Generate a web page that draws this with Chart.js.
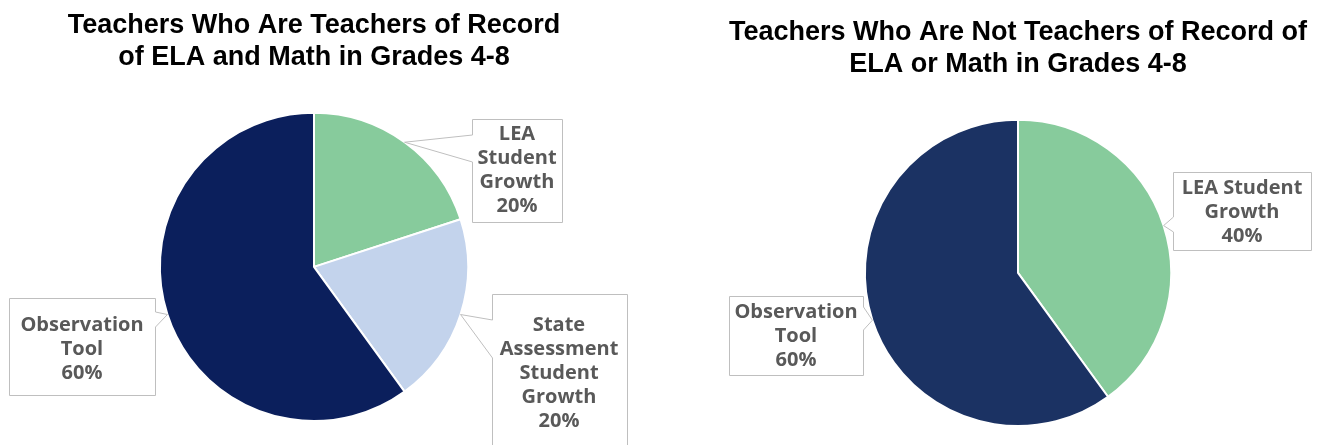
<!DOCTYPE html>
<html><head><meta charset="utf-8">
<script src="https://cdn.jsdelivr.net/npm/chart.js@4/dist/chart.umd.min.js"></script>
<style>
html,body{margin:0;padding:0;background:#fff;}
#wrap{position:relative;width:1323px;height:445px;overflow:hidden;background:#fff;}
.c{position:absolute;top:0;height:445px;}
</style></head><body>
<div id="wrap">
<div class="c" style="left:0;width:660px"><canvas id="left"></canvas></div>
<div class="c" style="left:660px;width:663px"><canvas id="right"></canvas></div>
</div>
<script>
// ---- data ----
const leftTitle = ['Teachers Who Are Teachers of Record', 'of ELA and Math in Grades 4-8'];
const leftCategories = ['LEA Student Growth', 'State Assessment Student Growth', 'Observation Tool'];
const leftValues = [20, 20, 60];
const leftColors = ['#87CB9C', '#C3D3EC', '#0B1F5C'];
const leftLabelLines = [['LEA', 'Student', 'Growth'], ['State', 'Assessment', 'Student', 'Growth'], ['Observation', 'Tool']];

const rightTitle = ['Teachers Who Are Not Teachers of Record of', 'ELA or Math in Grades 4-8'];
const rightCategories = ['LEA Student Growth', 'Observation Tool'];
const rightValues = [40, 60];
const rightColors = ['#87CB9C', '#1B3263'];
const rightLabelLines = [['LEA Student', 'Growth'], ['Observation', 'Tool']];

// ---- callout plugin ----
const calloutPlugin = {
  id: 'callouts',
  afterDatasetsDraw(chart, args, opts) {
    const ctx = chart.ctx;
    const meta = chart.getDatasetMeta(0);
    const values = chart.data.datasets[0].data;
    (opts.items || []).forEach((it, i) => {
      const arc = meta.data[i];
      const mid = (arc.startAngle + arc.endAngle) / 2;
      const tx = arc.x + Math.cos(mid) * arc.outerRadius;
      const ty = arc.y + Math.sin(mid) * arc.outerRadius;
      const [bx, by, bw, bh] = it.box;
      const [w1, w2] = it.wedge;
      ctx.save();
      ctx.fillStyle = '#ffffff';
      ctx.fillRect(bx, by, bw, bh);
      ctx.strokeStyle = '#BFBFBF';
      ctx.lineWidth = 1;
      const L = bx + 0.5, R = bx + bw + 0.5, T = by + 0.5, B = by + bh + 0.5;
      ctx.beginPath();
      if (it.side === 'left') {
        ctx.moveTo(L, T); ctx.lineTo(R, T); ctx.lineTo(R, B); ctx.lineTo(L, B);
        ctx.lineTo(L, w2); ctx.lineTo(tx, ty); ctx.lineTo(L, w1); ctx.closePath();
      } else {
        ctx.moveTo(L, T); ctx.lineTo(R, T); ctx.lineTo(R, w1); ctx.lineTo(tx, ty);
        ctx.lineTo(R, w2); ctx.lineTo(R, B); ctx.lineTo(L, B); ctx.closePath();
      }
      ctx.stroke();
      const lines = it.lines.concat([values[i] + '%']);
      ctx.fillStyle = '#595959';
      ctx.font = 'bold 20px "Open Sans"';
      ctx.textAlign = 'center';
      ctx.textBaseline = 'middle';
      const lh = it.lh || 24;
      lines.forEach((t, k) => ctx.fillText(t, it.cx, it.y0 + k * lh));
      ctx.restore();
    });
  }
};

function makePie(id, title, cats, vals, colors, titlePad, layoutPad, items) {
  return new Chart(document.getElementById(id), {
    type: 'pie',
    data: { labels: cats, datasets: [{ data: vals, backgroundColor: colors, borderColor: '#ffffff', borderWidth: 2 }] },
    options: {
      responsive: true, maintainAspectRatio: false, animation: false,
      layout: { padding: layoutPad },
      plugins: {
        legend: { display: false },
        tooltip: { enabled: false },
        title: { display: true, text: title, color: '#000000',
          font: { family: '"Liberation Sans", Arial, sans-serif', size: 27, weight: 'bold', lineHeight: 1.2 },
          padding: titlePad },
        callouts: { items: items }
      }
    },
    plugins: [calloutPlugin]
  });
}

makePie('left', leftTitle, leftCategories, leftValues, leftColors,
  { top: 9, bottom: 38 }, { left: 0, right: 32, top: 0, bottom: 23 },
  [
    { box: [472, 119, 90, 103], side: 'left', wedge: [135, 162], lines: leftLabelLines[0], cx: 517, y0: 134 },
    { box: [492, 294, 135, 200], side: 'left', wedge: [320, 358], lines: leftLabelLines[1], cx: 559, y0: 325 },
    { box: [9, 298, 146, 97], side: 'right', wedge: [312, 327], lines: leftLabelLines[2], cx: 82, y0: 325 }
  ]);

makePie('right', rightTitle, rightCategories, rightValues, rightColors,
  { top: 16, bottom: 38 }, { left: 53, right: 0, top: 0, bottom: 18 },
  [
    { box: [513, 172, 138, 78], side: 'left', wedge: [217, 232], lines: rightLabelLines[0], cx: 582, y0: 188 },
    { box: [69, 296, 134, 79], side: 'right', wedge: [307, 330], lines: rightLabelLines[1], cx: 136, y0: 312 }
  ]);
</script>
</body></html>
